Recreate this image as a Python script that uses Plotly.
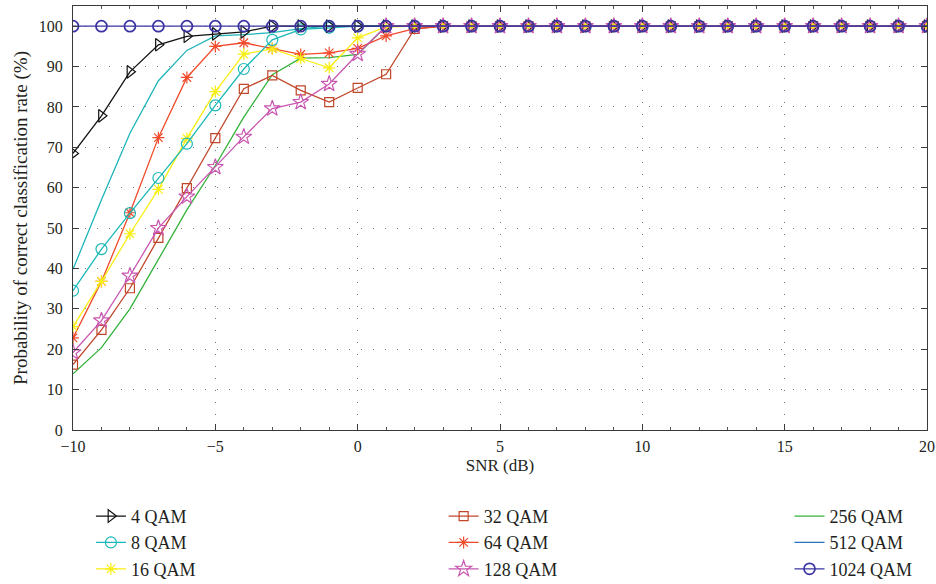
import plotly.graph_objects as go

snr = [-10, -9, -8, -7, -6, -5, -4, -3, -2, -1, 0, 1, 2, 3, 4, 5, 6, 7, 8, 9, 10,
       11, 12, 13, 14, 15, 16, 17, 18, 19, 20]

qam4 = [68.5, 77.8, 88.7, 95.4, 97.5, 98.1, 98.6, 100, 100, 100, 100, 100, 100, 100, 100, 100,
        100, 100, 100, 100, 100, 100, 100, 100, 100, 100, 100, 100, 100, 100, 100]
qam8 = [34.5, 44.8, 53.7, 62.4, 70.9, 80.4, 89.4, 96.6, 99.2, 99.6, 100, 100, 100, 100, 100, 100,
        100, 100, 100, 100, 100, 100, 100, 100, 100, 100, 100, 100, 100, 100, 100]
qam16 = [25.6, 36.8, 48.6, 59.6, 72.2, 83.8, 93.1, 94.4, 92.0, 89.7, 97.1, 99.8, 100, 100, 100, 100,
         100, 100, 100, 100, 100, 100, 100, 100, 100, 100, 100, 100, 100, 100, 100]
qam32 = [16.2, 24.8, 35.1, 47.6, 59.9, 72.3, 84.5, 87.8, 84.1, 81.2, 84.7, 88.1, 99.3, 100, 100, 100,
         100, 100, 100, 100, 100, 100, 100, 100, 100, 100, 100, 100, 100, 100, 100]
qam64 = [22.8, 36.8, 53.8, 72.4, 87.3, 95.0, 95.9, 94.5, 93.0, 93.4, 94.5, 97.6, 99.4, 100, 100, 100,
         100, 100, 100, 100, 100, 100, 100, 100, 100, 100, 100, 100, 100, 100, 100]
qam128 = [19.2, 27.1, 38.2, 50.0, 57.8, 65.1, 72.6, 79.6, 81.2, 85.7, 93.1, 100, 100, 100, 100, 100,
          100, 100, 100, 100, 100, 100, 100, 100, 100, 100, 100, 100, 100, 100, 100]
qam256 = [13.9, 20.4, 30.0, 42.3, 54.5, 65.5, 77.5, 88.0, 92.1, 92.2, 93.0, 100, 100, 100, 100, 100,
          100, 100, 100, 100, 100, 100, 100, 100, 100, 100, 100, 100, 100, 100, 100]
qam512 = [39.8, 57.0, 73.5, 86.5, 94.0, 97.6, 97.9, 98.4, 99.4, 100, 100, 100, 100, 100, 100, 100,
          100, 100, 100, 100, 100, 100, 100, 100, 100, 100, 100, 100, 100, 100, 100]
qam1024 = [100, 100, 100, 100, 100, 100, 100, 100, 100, 100, 100, 100, 100, 100, 100, 100,
           100, 100, 100, 100, 100, 100, 100, 100, 100, 100, 100, 100, 100, 100, 100]

x_ticks = [-10, -5, 0, 5, 10, 15, 20]
y_ticks = [0, 10, 20, 30, 40, 50, 60, 70, 80, 90, 100]

FONT = "Liberation Serif"
TXT = "#231f20"

fig = go.Figure()

def add(name, y, color, symbol, size, legend, showlegend=True, mlw=1.2):
    mode = "lines+markers" if symbol else "lines"
    marker = dict(symbol=symbol, size=size, color=color, line=dict(color=color, width=mlw)) if symbol else None
    fig.add_trace(go.Scatter(x=snr, y=y, name=name, mode=mode, legend=legend,
                             showlegend=showlegend,
                             line=dict(color=color, width=1.3), marker=marker))

add("256 QAM", qam256, "#33b23a", None, 0, "legend3")
add("512 QAM", qam512, "#1db5b9", None, 0, "legend3", showlegend=False)
add("32 QAM", qam32, "#c0462a", "square-open", 9, "legend2")
add("64 QAM", qam64, "#f04a2a", "asterisk-open", 10, "legend2")
add("16 QAM", qam16, "#f7ee14", "asterisk-open", 10, "legend")
add("8 QAM", qam8, "#1cb8b8", "circle-open", 11, "legend")
add("4 QAM", qam4, "#111111", "triangle-right-open", 11, "legend")
add("128 QAM", qam128, "#c956b0", "star-open", 12, "legend2")
add("1024 QAM", qam1024, "#3a33a2", "circle-open", 11, "legend3", mlw=1.7)

# legend proxy entry for 512 QAM as shown in the reference legend
fig.add_trace(go.Scatter(x=[None], y=[None], name="512 QAM", mode="lines", legend="legend3",
                         line=dict(color="#2273c4", width=1.3)))

ranks = {"4 QAM": 1, "8 QAM": 2, "16 QAM": 3, "32 QAM": 1, "64 QAM": 2, "128 QAM": 3,
         "256 QAM": 1, "512 QAM": 2, "1024 QAM": 3}
for tr in fig.data:
    tr.legendrank = ranks[tr.name]

grid = dict(showgrid=True, gridcolor="#777777", gridwidth=1.3, griddash="1.3px,10.7px")
axline = dict(showline=True, linecolor="#3a3a3a", linewidth=1.2, mirror="ticks",
              ticks="inside", ticklen=6, tickcolor="#3a3a3a", zeroline=False,
              tickfont=dict(family=FONT, size=16, color=TXT))

fig.update_xaxes(range=[-10, 20], tickvals=x_ticks, **grid, **axline, ticklabelstandoff=2,
                 minor=dict(dtick=1, ticks="inside", ticklen=3, tickcolor="#555555", showgrid=False),
                 title=dict(text="SNR (dB)", font=dict(family=FONT, size=17, color=TXT), standoff=4))
fig.update_yaxes(range=[0, 105], tickvals=y_ticks, **grid, **axline, ticklabelstandoff=6,
                 title=dict(text="Probability of correct classification rate (%)",
                            font=dict(family=FONT, size=19, color=TXT), standoff=6))

leg = dict(orientation="v", yanchor="top", y=-0.16, xanchor="left", bgcolor="rgba(0,0,0,0)",
           font=dict(family=FONT, size=18, color=TXT), borderwidth=0, traceorder="normal")
fig.update_layout(
    width=936, height=584,
    paper_bgcolor="white", plot_bgcolor="white",
    margin=dict(l=73, r=9, t=6, b=154, autoexpand=False),
    legend=dict(leg, x=0.021),
    legend2=dict(leg, x=0.434),
    legend3=dict(leg, x=0.839),
    font=dict(family=FONT, color=TXT),
)

fig.write_html("out.html", post_script="document.body.style.margin='0';",
               config={"displayModeBar": False})
